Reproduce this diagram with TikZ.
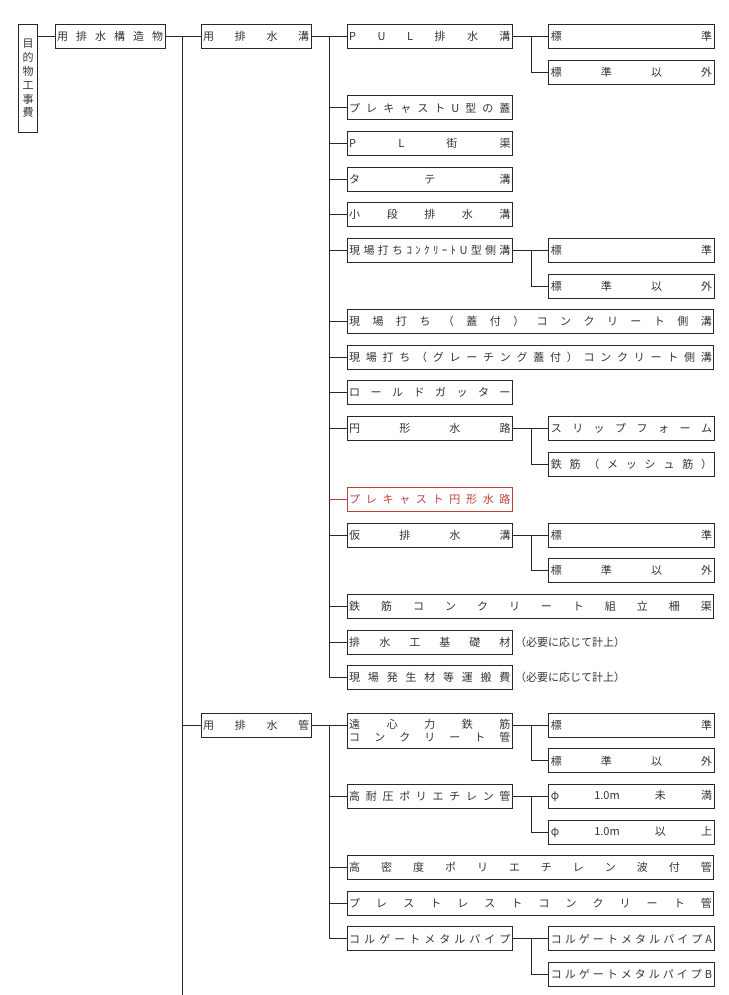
\documentclass[tikz,border=0pt]{standalone}
\usepackage{fontspec}
\setmainfont{Noto Sans CJK JP}
\usepackage{xcolor}
\usetikzlibrary{positioning}
\definecolor{linegray}{RGB}{40,40,40}
\definecolor{markred}{RGB}{190,62,58}
\makeatletter
% spread the items of #2 evenly over a box of width #1
\newcommand{\spreadbox}[2]{\hbox to #1{\def\sb@sep{}\@tfor\sb@ch:=#2\do{\sb@sep\sb@ch\def\sb@sep{\hfill}}}}
\makeatother
\newcommand{\wA}{106pt}
\newcommand{\wB}{161.3pt}
\newcommand{\wC}{362.6pt}

\begin{document}
\begin{tikzpicture}[x=1pt, y=-1pt,
  box/.style={draw=linegray, line width=1pt, anchor=north west, inner xsep=2pt, inner ysep=0pt, minimum height=24pt, font=\fontsize{11}{12}\selectfont, text=black!80},
  boxA/.style={box, minimum width=110pt},
  boxB/.style={box, minimum width=165.3pt},
  boxC/.style={box, minimum width=366.6pt},
  redbox/.style={draw=markred, text=markred},
  link/.style={draw=linegray, line width=1pt},
  note/.style={font=\fontsize{11}{12}\selectfont, inner sep=0pt, text=black!80}]
\useasboundingbox (0,0) rectangle (728,995);
% first levels
\node[box, minimum width=18.4pt, minimum height=107.4pt, inner sep=0pt, align=center, font=\fontsize{11}{13.8}\selectfont] (mokuteki) at (18.3,24.3) {目\\的\\物\\工\\事\\費};
\node[boxA] (kouzou) at (54.7,24.3) {\spreadbox{\wA}{用排水構造物}};
\node[boxA] (mizo) at (200.7,24.3) {\spreadbox{\wA}{用排水溝}};
\node[boxA] (kan) at (200.7,712.7) {\spreadbox{\wA}{用排水管}};
% drains
\node[boxB] (pul) at (346.7,24.3) {\spreadbox{\wB}{PUL排水溝}};
\node[boxB, right=35.3pt of pul] (std1) {\spreadbox{\wB}{標準}};
\node[boxB, below=10.6pt of std1] (nstd1) {\spreadbox{\wB}{標準以外}};
\node[boxB] (ufuta) at (346.7,95.5) {\spreadbox{\wB}{プレキャストU型の蓋}};
\node[boxB] (plkyo) at (346.7,131.1) {\spreadbox{\wB}{PL街渠}};
\node[boxB] (tate) at (346.7,166.7) {\spreadbox{\wB}{タテ溝}};
\node[boxB] (kodan) at (346.7,202.3) {\spreadbox{\wB}{小段排水溝}};
\node[boxB] (genU) at (346.7,237.9) {\spreadbox{\wB}{現場打ちｺﾝｸﾘｰﾄU型側溝}};
\node[boxB, right=35.3pt of genU] (std2) {\spreadbox{\wB}{標準}};
\node[boxB, below=10.6pt of std2] (nstd2) {\spreadbox{\wB}{標準以外}};
\node[boxC] (futa) at (346.7,309.1) {\spreadbox{\wC}{現場打ち（蓋付）コンクリート側溝}};
\node[boxC] (grating) at (346.7,344.7) {\spreadbox{\wC}{現場打ち（グレーチング蓋付）コンクリート側溝}};
\node[boxB] (rolled) at (346.7,380.3) {\spreadbox{\wB}{ロールドガッター}};
\node[boxB] (enkei) at (346.7,415.9) {\spreadbox{\wB}{円形水路}};
\node[boxB, right=35.3pt of enkei] (slip) {\spreadbox{\wB}{スリップフォーム}};
\node[boxB, below=10.6pt of slip] (mesh) {\spreadbox{\wB}{鉄筋（メッシュ筋）}};
\node[boxB, redbox] (pcen) at (346.7,487.1) {\spreadbox{\wB}{プレキャスト円形水路}};
\node[boxB] (kari) at (346.7,522.7) {\spreadbox{\wB}{仮排水溝}};
\node[boxB, right=35.3pt of kari] (std3) {\spreadbox{\wB}{標準}};
\node[boxB, below=10.6pt of std3] (nstd3) {\spreadbox{\wB}{標準以外}};
\node[boxC] (sakkyo) at (346.7,593.9) {\spreadbox{\wC}{鉄筋コンクリート組立柵渠}};
\node[boxB] (kiso) at (346.7,629.5) {\spreadbox{\wB}{排水工基礎材}};
\node[note, right=2pt of kiso] (kisonote) {（必要に応じて計上）};
\node[boxB] (genba) at (346.7,665.1) {\spreadbox{\wB}{現場発生材等運搬費}};
\node[note, right=2pt of genba] (genbanote) {（必要に応じて計上）};
% pipes
\node[boxB, minimum height=35.6pt, align=center, font=\fontsize{11}{13.4}\selectfont] (enshin) at (346.7,712.7) {\spreadbox{\wB}{遠心力鉄筋}\\\spreadbox{\wB}{コンクリート管}};
\node[boxB] (std5) at (548.3,712.7) {\spreadbox{\wB}{標準}};
\node[boxB, below=10.6pt of std5] (nstd5) {\spreadbox{\wB}{標準以外}};
\node[boxB] (koutai) at (346.7,783.9) {\spreadbox{\wB}{高耐圧ポリエチレン管}};
\node[boxB, right=35.3pt of koutai] (miman) {\spreadbox{\wB}{φ{1.0m}未満}};
\node[boxB, below=10.6pt of miman] (ijou) {\spreadbox{\wB}{φ{1.0m}以上}};
\node[boxC] (mitsudo) at (346.7,855.1) {\spreadbox{\wC}{高密度ポリエチレン波付管}};
\node[boxC] (prestress) at (346.7,890.7) {\spreadbox{\wC}{プレストレストコンクリート管}};
\node[boxB] (corr) at (346.7,926.3) {\spreadbox{\wB}{コルゲートメタルパイプ}};
\node[boxB, right=35.3pt of corr] (corrA) {\spreadbox{\wB}{コルゲートメタルパイプA}};
\node[boxB, below=10.6pt of corrA] (corrB) {\spreadbox{\wB}{コルゲートメタルパイプB}};
% connectors
\coordinate (busM) at (182.7,36.3); \coordinate (busMend) at (182.7,995);
\coordinate (busA) at (329,36.3); \coordinate (busB) at (329,724.7);
\draw[link] (mokuteki.east |- kouzou.west) -- (kouzou.west);
\draw[link] (kouzou.east) -- (mizo.west); \draw[link] (busM) -- (busMend); \draw[link] (busM |- kan.west) -- (kan.west);
\draw[link] (mizo.east) -- (pul.west); \draw[link] (busA) -- (busA |- genba.west);
\draw[link] (busA |- ufuta.west) -- (ufuta.west); \draw[link] (busA |- plkyo.west) -- (plkyo.west);
\draw[link] (busA |- tate.west) -- (tate.west); \draw[link] (busA |- kodan.west) -- (kodan.west);
\draw[link] (busA |- genU.west) -- (genU.west); \draw[link] (busA |- futa.west) -- (futa.west);
\draw[link] (busA |- grating.west) -- (grating.west); \draw[link] (busA |- rolled.west) -- (rolled.west);
\draw[link] (busA |- enkei.west) -- (enkei.west); \draw[link, draw=markred] (busA |- pcen.west) -- (pcen.west);
\draw[link] (busA |- kari.west) -- (kari.west); \draw[link] (busA |- sakkyo.west) -- (sakkyo.west);
\draw[link] (busA |- kiso.west) -- (kiso.west); \draw[link] (busA |- genba.west) -- (genba.west);
\draw[link] (pul.east) -- (std1.west); \draw[link] (pul.east) -- ++(18.3,0) |- (nstd1.west);
\draw[link] (genU.east) -- (std2.west); \draw[link] (genU.east) -- ++(18.3,0) |- (nstd2.west);
\draw[link] (enkei.east) -- (slip.west); \draw[link] (enkei.east) -- ++(18.3,0) |- (mesh.west);
\draw[link] (kari.east) -- (std3.west); \draw[link] (kari.east) -- ++(18.3,0) |- (nstd3.west);
\draw[link] (kan.east) -- (kan.east -| enshin.west); \draw[link] (busB) -- (busB |- corr.west);
\draw[link] (busB |- koutai.west) -- (koutai.west); \draw[link] (busB |- mitsudo.west) -- (mitsudo.west);
\draw[link] (busB |- prestress.west) -- (prestress.west); \draw[link] (busB |- corr.west) -- (corr.west);
\draw[link] (enshin.east |- std5.west) -- (std5.west); \draw[link] (enshin.east |- std5.west) -- ++(18.3,0) |- (nstd5.west);
\draw[link] (koutai.east) -- (miman.west); \draw[link] (koutai.east) -- ++(18.3,0) |- (ijou.west);
\draw[link] (corr.east) -- (corrA.west); \draw[link] (corr.east) -- ++(18.3,0) |- (corrB.west);
\end{tikzpicture}
\end{document}
